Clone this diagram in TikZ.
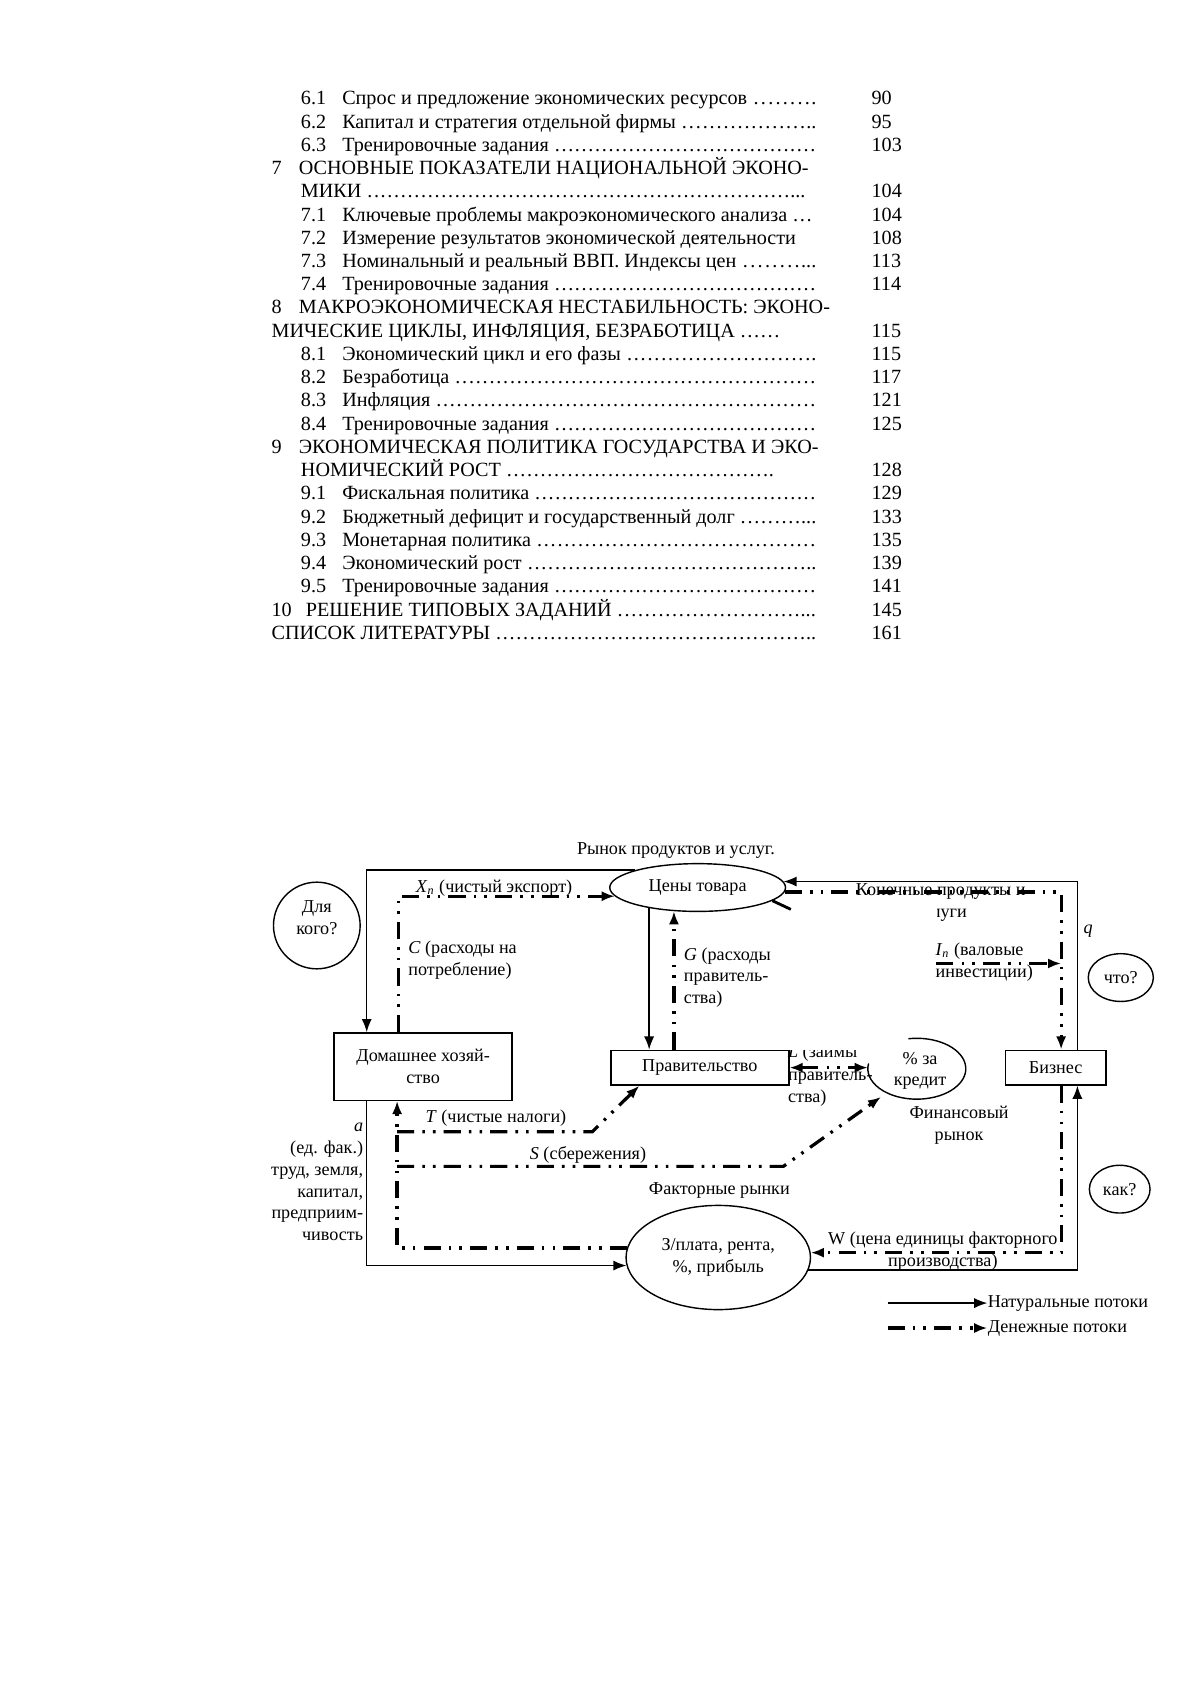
\documentclass[tikz,border=0pt]{standalone}
\usepackage{fontspec}
\setmainfont{Liberation Serif}
\usetikzlibrary{arrows.meta,shapes.geometric,calc}

\newcommand\dgfont{\fontsize{9}{10.8}\selectfont}
\newcommand\tocfill{\xleaders\hbox to 3.33pt{\hss.\hss}\hfill}

\tikzset{
    goods/.style={line width=0.7pt,-{Latex[length=6.5pt,width=5pt]}},
    money/.style={line width=1.6pt,dash pattern=on 8.5pt off 4pt on 1.3pt off 4pt on 1.3pt off 4pt,-{Latex[length=6.5pt,width=5pt]}},
    box/.style={draw,line width=0.7pt,rectangle,inner sep=1pt,align=center,font=\dgfont},
    oval/.style={draw,line width=0.7pt,ellipse,inner sep=0pt,align=center,font=\dgfont},
    toc/.style={anchor=base west,inner sep=0pt,font=\fontsize{10}{11.5}\selectfont},
    lbl/.style={inner sep=0pt,font=\dgfont,align=left},
}

\begin{document}
\begin{tikzpicture}[x=0.5383pt,y=-0.5383pt]
    \useasboundingbox (0,0) rectangle (1106,1565);

    % table of contents
    \node[toc] (n61) at (277,96.5) {\makebox[20.5pt][l]{6.1}\makebox[235.2pt][l]{Спрос и предложение экономических ресурсов \tocfill.}};
    \node[toc] (n62) at (277,118) {\makebox[20.5pt][l]{6.2}\makebox[235.2pt][l]{Капитал и стратегия отдельной фирмы \tocfill..}};
    \node[toc] (n63) at (277,139.4) {\makebox[20.5pt][l]{6.3}\makebox[235.2pt][l]{Тренировочные задания \tocfill}};
    \node[toc] (c7) at (250,160.8) {\makebox[13.5pt][l]{7}ОСНОВНЫЕ ПОКАЗАТЕЛИ НАЦИОНАЛЬНОЙ ЭКОНО-};
    \node[toc] (c7b) at (277,182.2) {\makebox[250.3pt][l]{МИКИ \tocfill...}};
    \node[toc] (n71) at (277,203.7) {\makebox[20.5pt][l]{7.1}Ключевые проблемы макроэкономического анализа …};
    \node[toc] (n72) at (277,225.1) {\makebox[20.5pt][l]{7.2}Измерение результатов экономической деятельности};
    \node[toc] (n73) at (277,246.5) {\makebox[20.5pt][l]{7.3}\makebox[235.2pt][l]{Номинальный и реальный ВВП. Индексы цен \tocfill...}};
    \node[toc] (n74) at (277,268) {\makebox[20.5pt][l]{7.4}\makebox[235.2pt][l]{Тренировочные задания \tocfill}};
    \node[toc] (c8) at (250,289.4) {\makebox[13.5pt][l]{8}МАКРОЭКОНОМИЧЕСКАЯ НЕСТАБИЛЬНОСТЬ: ЭКОНО-};
    \node[toc] (c8b) at (250,310.8) {МИЧЕСКИЕ ЦИКЛЫ, ИНФЛЯЦИЯ, БЕЗРАБОТИЦА ……};
    \node[toc] (n81) at (277,332.2) {\makebox[20.5pt][l]{8.1}\makebox[235.2pt][l]{Экономический цикл и его фазы \tocfill.}};
    \node[toc] (n82) at (277,353.7) {\makebox[20.5pt][l]{8.2}\makebox[235.2pt][l]{Безработица \tocfill}};
    \node[toc] (n83) at (277,375.1) {\makebox[20.5pt][l]{8.3}\makebox[235.2pt][l]{Инфляция \tocfill}};
    \node[toc] (n84) at (277,396.5) {\makebox[20.5pt][l]{8.4}\makebox[235.2pt][l]{Тренировочные задания \tocfill}};
    \node[toc] (c9) at (250,418) {\makebox[13.5pt][l]{9}ЭКОНОМИЧЕСКАЯ ПОЛИТИКА ГОСУДАРСТВА И ЭКО-};
    \node[toc] (c9b) at (277,439.4) {\makebox[234.7pt][l]{НОМИЧЕСКИЙ РОСТ \tocfill.}};
    \node[toc] (n91) at (277,460.8) {\makebox[20.5pt][l]{9.1}\makebox[235.2pt][l]{Фискальная политика \tocfill}};
    \node[toc] (n92) at (277,482.2) {\makebox[20.5pt][l]{9.2}\makebox[235.2pt][l]{Бюджетный дефицит и государственный долг \tocfill...}};
    \node[toc] (n93) at (277,503.7) {\makebox[20.5pt][l]{9.3}\makebox[235.2pt][l]{Монетарная политика \tocfill}};
    \node[toc] (n94) at (277,525.1) {\makebox[20.5pt][l]{9.4}\makebox[235.2pt][l]{Экономический рост \tocfill..}};
    \node[toc] (n95) at (277,546.5) {\makebox[20.5pt][l]{9.5}\makebox[235.2pt][l]{Тренировочные задания \tocfill}};
    \node[toc] (c10) at (250,568) {\makebox[17pt][l]{10}\makebox[253pt][l]{РЕШЕНИЕ ТИПОВЫХ ЗАДАНИЙ \tocfill...}};
    \node[toc] (lit) at (250,589.4) {\makebox[270.2pt][l]{СПИСОК ЛИТЕРАТУРЫ \tocfill..}};

    % page numbers
    \node[toc] (p61) at (803,96.5) {90};
    \node[toc] (p62) at (803,118) {95};
    \node[toc] (p63) at (803,139.4) {103};
    \node[toc] (p7) at (803,182.2) {104};
    \node[toc] (p71) at (803,203.7) {104};
    \node[toc] (p72) at (803,225.1) {108};
    \node[toc] (p73) at (803,246.5) {113};
    \node[toc] (p74) at (803,268) {114};
    \node[toc] (p8) at (803,310.8) {115};
    \node[toc] (p81) at (803,332.2) {115};
    \node[toc] (p82) at (803,353.7) {117};
    \node[toc] (p83) at (803,375.1) {121};
    \node[toc] (p84) at (803,396.5) {125};
    \node[toc] (p9) at (803,439.4) {128};
    \node[toc] (p91) at (803,460.8) {129};
    \node[toc] (p92) at (803,482.2) {133};
    \node[toc] (p93) at (803,503.7) {135};
    \node[toc] (p94) at (803,525.1) {139};
    \node[toc] (p95) at (803,546.5) {141};
    \node[toc] (p10) at (803,568) {145};
    \node[toc] (plit) at (803,589.4) {161};

    % diagram: markets and sectors
    \node[lbl] (pm) at (623,784) {Рынок продуктов и услуг.};
    \node[oval,minimum width=87.2pt,minimum height=23.7pt] (prices) at (643,818) {Цены товара};
    \node[oval,circle,minimum size=43pt] (whom) at (292,853) {};
    \node[lbl,align=center] (whomt) at ([yshift=4pt]whom) {Для\\кого?};
    \node[box,minimum width=88.3pt,minimum height=33.4pt] (hh) at (390,983) {Домашнее хозяй-\\ство};
    \node[box,minimum width=88.3pt,minimum height=17.2pt] (gov) at (645,984) {Правительство};
    \node[box,minimum width=50pt,minimum height=17.2pt] (biz) at (973,984) {Бизнес};
    \node[oval,minimum width=32.3pt,minimum height=23.7pt] (what) at (1033,901) {что?};
    \node[oval,minimum width=30.1pt,minimum height=23.7pt] (how) at (1032,1096) {как?};
    \node[oval,minimum width=91.5pt,minimum height=51.7pt] (factor) at (662,1159) {З/плата, рента,\\\%, прибыль};
    \node[lbl] (fm) at (663,1097) {Факторные рынки};
    \coordinate (fin) at (845,985);
    \node[lbl,align=center] (credit) at (848,987) {\% за\\кредит};
    \node[lbl,align=center] (finl) at (884,1037) {Финансовый\\рынок};
    \draw[line width=0.7pt] ([shift={(100:24.3pt and 15.1pt)}]fin) arc[start angle=100,end angle=-190,x radius=24.3pt,y radius=15.1pt];

    % flow corridors
    \coordinate (lgX) at (338,0);
    \coordinate (lmX) at (366,0);
    \coordinate (cX) at (367,0);
    \coordinate (rgX) at (993,0);
    \coordinate (rmX) at (978,0);

    % natural flows
    \draw[goods] (prices.north west) -| (hh.north -| lgX);
    \draw[goods] (hh.south -| lgX) |- (factor.185);
    \draw[goods] (factor.-8) -| (biz.south -| rgX);
    \draw[goods] (biz.north -| rgX) |- (prices.4);
    \draw[goods] (prices.-157) -- (prices.-157 |- gov.north);

    % money flows
    \draw[money] (hh.north -| cX) |- (prices.186);
    \draw[money] (prices.-135 |- gov.north) -- (prices.-135);
    \draw[money] (prices.-3) -| (biz.north -| rmX);
    \draw[line width=1.4pt] (prices.-10) -- ++(17,8);
    \coordinate (inv) at (863,888);
    \draw[money] (inv) -- (inv -| rmX);
    \draw[money] (biz.south -| rmX) |- (factor.3);
    \draw[money] (factor.174) -| (hh.south -| lmX);
    \coordinate (tax) at (366,1043);
    \coordinate (taxK) at (546,1043);
    \draw[money] (tax) -- (taxK) -- ([xshift=14.5pt]gov.south west);
    \coordinate (sav) at (366,1075);
    \coordinate (savK) at (722,1075);
    \coordinate (finSW) at (812,1011);
    \draw[money] (sav) -- (savK) -- (finSW);
    \coordinate (finW) at ([xshift=-24.3pt]fin);
    \draw[money,{Latex[length=6.5pt,width=5pt]}-{Latex[length=6.5pt,width=5pt]}] (gov.east) -- (gov.east -| finW);

    % flow labels
    \node[lbl,anchor=base west] (xn) at (383,823) {\textit{X}\textsubscript{\textit{n}} (чистый экспорт)};
    \node[lbl,anchor=north west] (cl) at (376,867) {\textit{C} (расходы на\\потребление)};
    \node[lbl,anchor=north west] (gl) at (630,873) {\textit{G} (расходы\\правитель-\\ства)};
    \node[lbl] (ql) at (1003,858) {\textit{q}};
    \node[lbl,anchor=north west] (il) at (862,869) {\textit{I}\textsubscript{\textit{n}} (валовые\\инвестиции)};
    \node[lbl,anchor=base west] (tl) at (392,1035) {\textit{T} (чистые налоги)};
    \node[lbl,anchor=base west] (sl) at (488,1069) {\textit{S} (сбережения)};
    \node[lbl,anchor=north east,align=right] (al) at (335,1035) {\textit{a}\\(ед. фак.)\\труд, земля,\\капитал,\\предприим-\\чивость};
    \node[lbl,anchor=north,align=center] (wl) at (869,1135) {W (цена единицы факторного\\производства)};
    \begin{scope}
        \clip (760,800) rectangle (960,833) (863,833) rectangle (960,860);
        \node[lbl,align=center] (endl) at (867,831.5) {Конечные продукты и\\услуги};
    \end{scope}
    \begin{scope}
        \clip (720,968) rectangle (800,1030);
        \node[lbl,anchor=base west] (loanl) at (726,975) {\textit{L} (займы};
    \end{scope}
    \node[lbl,anchor=north west] (loanl2) at (726,988) {правитель-\\ства)};

    % legend
    \coordinate (lgA) at (818,1201);
    \node[lbl,anchor=west] (lgt1) at (910,1201) {Натуральные потоки};
    \draw[goods] (lgA) -- (lgt1.west);
    \coordinate (lgB) at (818,1224);
    \node[lbl,anchor=west] (lgt2) at (910,1224) {Денежные потоки};
    \draw[money] (lgB) -- (lgt2.west);
\end{tikzpicture}
\end{document}
